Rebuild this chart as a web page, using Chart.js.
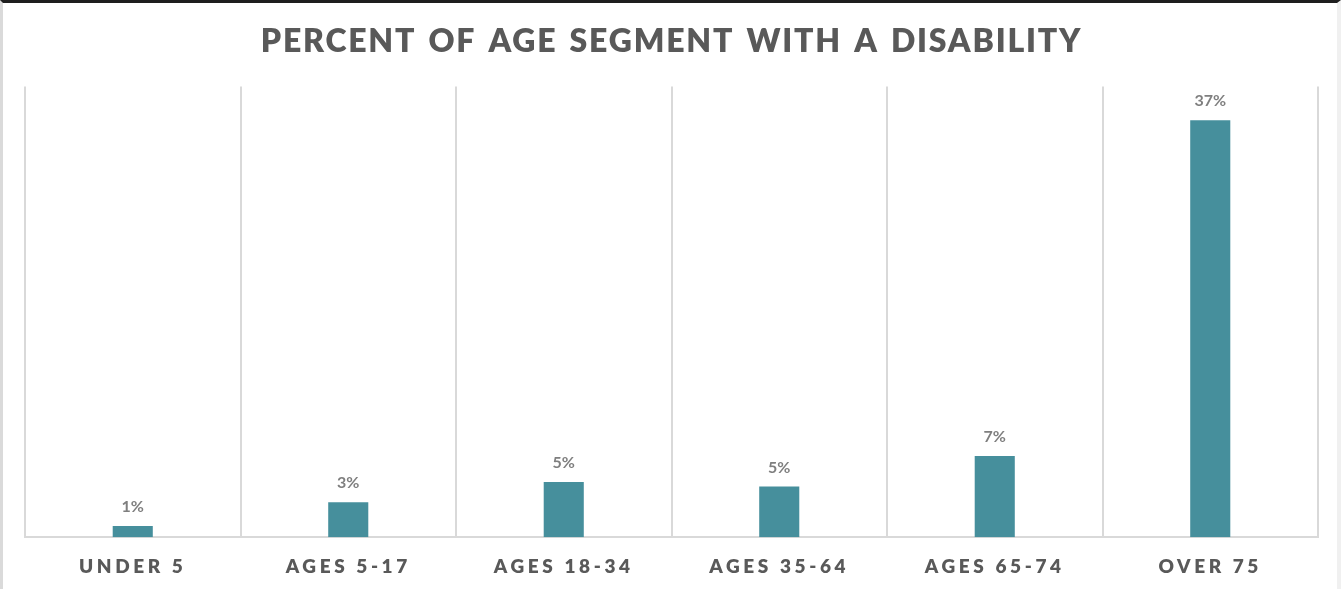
<!DOCTYPE html>
<html>
<head>
<meta charset="utf-8">
<script src="https://cdn.jsdelivr.net/npm/chart.js@4/dist/chart.umd.min.js"></script>
<style>
  html, body { margin: 0; padding: 0; background: #fff; }
  #wrap { position: relative; width: 1341px; height: 589px; }
  #frame {
    position: absolute; left: 0; top: 0; width: 1341px; height: 589px;
    box-sizing: border-box; pointer-events: none;
    border-top: 3px solid #1e1e1e;
    border-left: 3px solid #dadada;
    border-right: 4px solid #f0f0f0;
  }
</style>
</head>
<body>
<div id="wrap">
  <canvas id="disabilityChart" width="1341" height="589"></canvas>
  <div id="frame"></div>
</div>
<script>
// ===============================
// Data
// ===============================
const ageGroups = ['UNDER 5', 'AGES 5-17', 'AGES 18-34', 'AGES 35-64', 'AGES 65-74', 'OVER 75'];
const pctDisabled = [1.0, 3.1, 4.9, 4.5, 7.2, 37.0];

const TEXT_DARK = '#595959';
const TEXT_GREY = '#7f7f7f';
const BAR_TEAL = '#468f9c';
const FONT = 'Lato, "DejaVu Sans", sans-serif';

// title spacing first; tick labels (z: 1) are drawn after the datasets
const spacingPlugin = {
  id: 'spacing',
  beforeDraw(chart) {
    chart.ctx.letterSpacing = '1.8px';
    chart.ctx.wordSpacing = '3px';
  }
};

// value labels above each bar, then switch spacing for the axis labels
const valueLabels = {
  id: 'valueLabels',
  afterDatasetsDraw(chart) {
    const ctx = chart.ctx;
    const meta = chart.getDatasetMeta(0);
    ctx.save();
    ctx.letterSpacing = '0px';
    ctx.wordSpacing = '0px';
    ctx.font = 'bold 16px ' + FONT;
    ctx.fillStyle = TEXT_GREY;
    ctx.textAlign = 'center';
    ctx.textBaseline = 'bottom';
    meta.data.forEach((bar, i) => {
      ctx.fillText(Math.round(pctDisabled[i]) + '%', bar.x, bar.y - 11);
    });
    ctx.restore();
    ctx.letterSpacing = '3.6px';
    ctx.wordSpacing = '0px';
  }
};

new Chart(document.getElementById('disabilityChart'), {
  type: 'bar',
  data: {
    labels: ageGroups,
    datasets: [{
      label: 'Percent with a disability',
      data: pctDisabled,
      backgroundColor: BAR_TEAL,
      barPercentage: 0.186,
      categoryPercentage: 1
    }]
  },
  options: {
    responsive: false,
    animation: false,
    layout: { padding: { left: 25, right: 23, top: 0, bottom: 0 } },
    plugins: {
      legend: { display: false },
      tooltip: { enabled: false },
      title: {
        display: true,
        text: 'PERCENT OF AGE SEGMENT WITH A DISABILITY',
        color: TEXT_DARK,
        font: { family: FONT, size: 32, weight: 800 },
        padding: { top: 22, bottom: 26 }
      }
    },
    scales: {
      x: {
        grid: { offset: true, color: '#d9d9d9', lineWidth: 2, drawTicks: false },
        border: { color: '#d9d9d9', width: 2 },
        ticks: {
          z: 1,
          color: TEXT_DARK,
          padding: 18,
          font: { family: FONT, size: 19, weight: 800 }
        },
        afterFit(scale) { scale.height -= 7; }
      },
      y: {
        display: false,
        min: 0,
        max: 40
      }
    }
  },
  plugins: [spacingPlugin, valueLabels]
});
</script>
</body>
</html>
